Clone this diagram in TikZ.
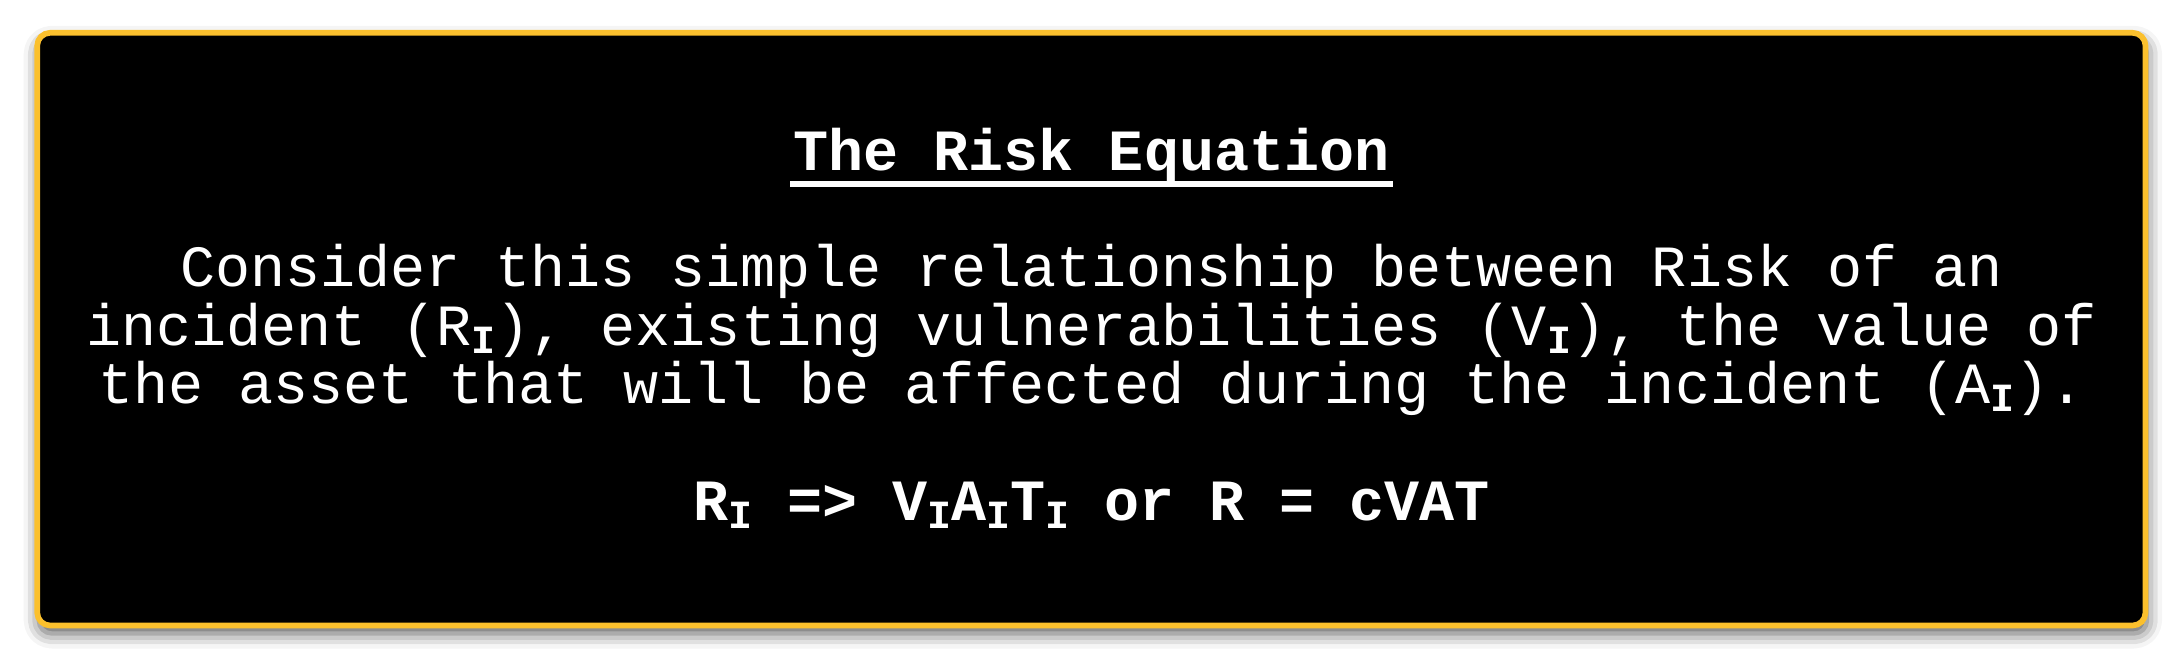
\documentclass[tikz,border=0pt]{standalone}
\usepackage{fontspec}
\newfontfamily\lmono{Liberation Mono}
\usetikzlibrary{shadows.blur}
\definecolor{boxyellow}{RGB}{251,192,45}
\newcommand\subI{\raisebox{-8pt}{\fontsize{40}{40}\selectfont\bfseries I}}
\tikzset{
  panel/.style={draw=boxyellow, line width=5.7pt, fill=black, rounded corners=13pt,
    blur shadow={shadow xshift=1.5pt, shadow yshift=-8pt, shadow blur radius=15pt, shadow opacity=65}},
  txt/.style={text=white, inner sep=0pt, anchor=base, font=\lmono\fontsize{58.4}{58.5}\selectfont},
  bold/.style={txt, font=\lmono\fontsize{58.4}{58.5}\selectfont\bfseries},
}
\begin{document}
\begin{tikzpicture}[x=1pt,y=1pt]
\useasboundingbox (0,0) rectangle (2183,-658);
\path[panel] (37.2,-32.8) rectangle (2145.5,-625.5);
\node[bold] (title) at (1091.5,-170.5) {The Risk Equation};
\draw[white, line width=5.5pt] ([xshift=-3pt,yshift=-13.5pt]title.base west) -- ([xshift=3pt,yshift=-13.5pt]title.base east);
\node[txt] (l1) at (1091.5,-286.5) {Consider this simple relationship between Risk of an};
\node[txt] (l2) at (1091.5,-345) {incident (R\subI), existing vulnerabilities (V\subI), the value of};
\node[txt] (l3) at (1091.5,-403.5) {the asset that will be affected during the incident (A\subI).};
\node[bold] (eq) at (1091.5,-520) {R\subI{} => V\subI A\subI T\subI{} or R = cVAT};
\end{tikzpicture}
\end{document}
